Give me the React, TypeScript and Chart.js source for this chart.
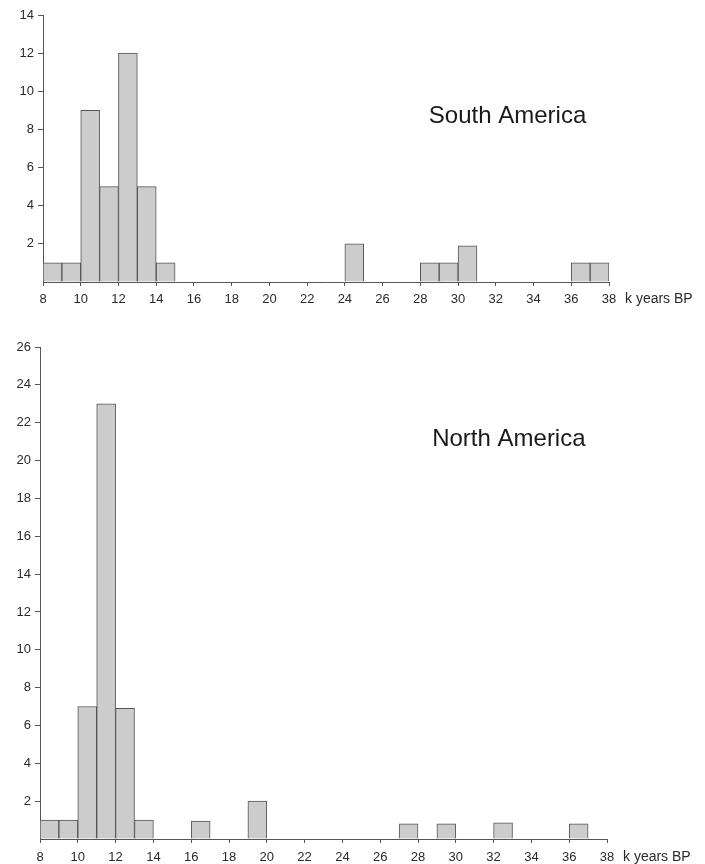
import React, { useEffect, useRef } from "react";
import { Chart, registerables } from "chart.js";

Chart.register(...registerables);

// South America histogram (bin start in k years BP, count)
const southBins = [8, 9, 10, 11, 12, 13, 14, 24, 28, 29, 30, 36, 37];
const southCounts = [1, 1, 9, 5, 12, 5, 1, 2, 1, 1, 1.9, 1, 1];

// North America histogram
const northBins = [8, 9, 10, 11, 12, 13, 16, 19, 27, 29, 32, 36];
const northCounts = [1, 1, 7, 23, 6.9, 1, 0.95, 2, 0.8, 0.8, 0.85, 0.8];

const xTickMin = 8;
const xTickMax = 38;
const xTickStep = 2;
const southYMax = 14;
const northYMax = 26;
const yTickStep = 2;
const xUnitLabel = "k years BP";

const FONT = "'Liberation Sans', Arial, Helvetica, sans-serif";

type PanelProps = {
  bins: number[];
  counts: number[];
  yMax: number;
  title: string;
  titleX: number;
  titleY: number;
  top: number;
  height: number;
  padTop: number;
  padRight: number;
  yAxisWidth: number;
  xAxisHeight: number;
  xLabelPad: number;
};

function Panel(p: PanelProps) {
  const ref = useRef<HTMLCanvasElement | null>(null);
  useEffect(() => {
    if (!ref.current) return;
    const labelPlugin = {
      id: "labels",
      afterDraw(chart: any) {
        const ctx = chart.ctx;
        const xs = chart.scales.x;
        const ys = chart.scales.y;
        ctx.save();
        ctx.fillStyle = "#1a1a1a";
        ctx.font = `24px ${FONT}`;
        ctx.textAlign = "left";
        ctx.textBaseline = "middle";
        ctx.fillText(p.title, xs.getPixelForValue(p.titleX), ys.getPixelForValue(p.titleY));
        ctx.fillStyle = "#2a2a2a";
        ctx.font = `14px ${FONT}`;
        ctx.fillText(xUnitLabel, xs.getPixelForValue(xTickMax) + 16, ys.getPixelForValue(0) + 4 + p.xLabelPad + 7);
        ctx.restore();
      },
    };
    const chart = new Chart(ref.current, {
      type: "bar",
      data: {
        datasets: [
          {
            data: p.bins.map((b, i) => ({ x: b + 0.5, y: p.counts[i] })),
            backgroundColor: "#cccccc",
            borderColor: "#555555",
            borderWidth: 1,
            barPercentage: 1,
            categoryPercentage: 1,
          },
        ],
      },
      options: {
        animation: false,
        responsive: false,
        maintainAspectRatio: false,
        layout: { padding: { top: p.padTop, right: p.padRight, left: 0, bottom: 0 } },
        plugins: { legend: { display: false }, tooltip: { enabled: false } },
        scales: {
          x: {
            type: "linear",
            min: xTickMin,
            max: xTickMax,
            offset: false,
            grid: {
              offset: false,
              drawOnChartArea: false,
              drawTicks: true,
              tickLength: 4,
              color: "#555",
            },
            border: { display: true, color: "#555", width: 1 },
            ticks: {
              stepSize: xTickStep,
              autoSkip: false,
              maxRotation: 0,
              padding: p.xLabelPad,
              color: "#2a2a2a",
              font: { family: FONT, size: 13 },
            },
            afterFit(scale: any) {
              scale.height = p.xAxisHeight;
            },
          },
          y: {
            min: 0,
            max: p.yMax,
            grid: {
              drawOnChartArea: false,
              drawTicks: true,
              tickLength: 5,
              color: (c: any) => (c.tick && c.tick.value === 0 ? "rgba(0,0,0,0)" : "#555"),
            },
            border: { display: true, color: "#555", width: 1 },
            ticks: {
              stepSize: yTickStep,
              padding: 4,
              color: "#2a2a2a",
              font: { family: FONT, size: 13 },
              callback: (v: any) => (v === 0 ? "" : String(v)),
            },
            afterFit(scale: any) {
              scale.width = p.yAxisWidth;
            },
          },
        },
      },
      plugins: [labelPlugin],
    } as any);
    return () => chart.destroy();
  }, []);
  return (
    <canvas
      ref={ref}
      width={705}
      height={p.height}
      style={{ position: "absolute", left: 0, top: p.top, width: 705, height: p.height }}
    />
  );
}

export default function App() {
  return (
    <div style={{ position: "absolute", left: 0, top: 0, width: 705, height: 864, background: "#fff" }}>
      <Panel
        bins={southBins}
        counts={southCounts}
        yMax={southYMax}
        title="South America"
        titleX={28.45}
        titleY={8.7}
        top={0}
        height={310}
        padTop={15}
        padRight={96}
        yAxisWidth={43}
        xAxisHeight={28}
        xLabelPad={6}
      />
      <Panel
        bins={northBins}
        counts={northCounts}
        yMax={northYMax}
        title="North America"
        titleX={28.75}
        titleY={21.1}
        top={310}
        height={554}
        padTop={37}
        padRight={98}
        yAxisWidth={40}
        xAxisHeight={25}
        xLabelPad={7}
      />
    </div>
  );
}
